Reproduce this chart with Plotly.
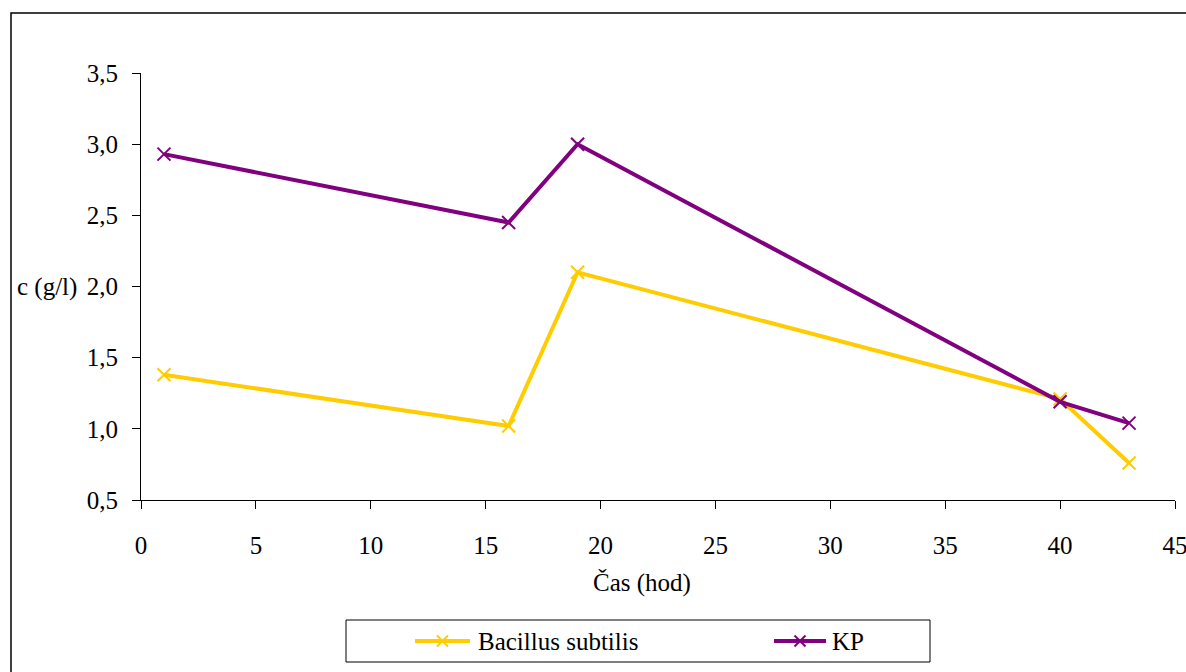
import plotly.graph_objects as go

# Sampling times (hours) and concentrations (g/l)
time_h = [1, 16, 19, 40, 43]
bacillus = [1.38, 1.02, 2.10, 1.21, 0.76]
kp = [2.93, 2.45, 3.00, 1.19, 1.04]
series_names = ["Bacillus subtilis", "KP"]

x_ticks = [0, 5, 10, 15, 20, 25, 30, 35, 40, 45]
y_ticks = [0.5, 1.0, 1.5, 2.0, 2.5, 3.0, 3.5]

SERIF = "Liberation Serif"
YELLOW = "#FFCC00"
PURPLE = "#800080"
colors = [YELLOW, PURPLE]


def font(size=25):
    return dict(family=SERIF, size=size, color="#000000")


fig = go.Figure()
for name, vals, col in zip(series_names, [bacillus, kp], colors):
    fig.add_trace(go.Scatter(
        x=time_h, y=vals, name=name, mode="lines+markers",
        line=dict(color=col, width=4),
        marker=dict(symbol="x-thin", size=13, color=col, line=dict(color=col, width=2)),
        showlegend=False,
    ))

W, H = 1186, 672
L, R, T, B = 141, 11, 73, 172
pw, ph = W - L - R, H - T - B


def px(xp):
    return (xp - L) / pw


def py(yp):
    return (H - B - yp) / ph


shapes = [
    # outer chart frame
    dict(type="rect", xref="paper", yref="paper",
         x0=px(11), x1=px(1192), y0=py(13), y1=py(680),
         line=dict(color="black", width=1.5), fillcolor="rgba(0,0,0,0)", layer="below"),
    # legend box
    dict(type="rect", xref="paper", yref="paper",
         x0=px(346), x1=px(930), y0=py(620), y1=py(662),
         line=dict(color="black", width=1), fillcolor="white", layer="below"),
]
annotations = [
    dict(text="c (g/l)", xref="paper", yref="y", x=px(79), y=2.0,
         xanchor="right", yanchor="middle", showarrow=False, font=font()),
    dict(text="Čas (hod)", xref="paper", yref="paper", x=px(642), y=py(583),
         xanchor="center", yanchor="middle", showarrow=False, font=font()),
]

# legend entries: line sample with an x glyph, then the series name
legend_y = 641
for name, col, (lx0, lx1, tx) in zip(series_names, colors, [(415, 470, 476), (774, 826, 830)]):
    shapes.append(dict(type="line", xref="paper", yref="paper",
                       x0=px(lx0), x1=px(lx1), y0=py(legend_y), y1=py(legend_y),
                       line=dict(color=col, width=4)))
    cx, s = (lx0 + lx1) / 2, 5.5
    shapes.append(dict(type="path", xref="paper", yref="paper",
                       path=(f"M{px(cx - s)},{py(legend_y - s)} L{px(cx + s)},{py(legend_y + s)} "
                             f"M{px(cx - s)},{py(legend_y + s)} L{px(cx + s)},{py(legend_y - s)}"),
                       line=dict(color=col, width=2)))
    annotations.append(dict(text=name, xref="paper", yref="paper", x=px(tx), y=py(legend_y),
                            xanchor="left", yanchor="middle", showarrow=False, font=font()))

fig.update_layout(
    width=W, height=H,
    margin=dict(l=L, r=R, t=T, b=B, pad=0, autoexpand=False),
    paper_bgcolor="white", plot_bgcolor="white",
    font=font(),
    separators=", ",
    showlegend=False,
    xaxis=dict(
        range=[0, 45], tickvals=x_ticks, showgrid=False, zeroline=False,
        showline=True, linecolor="black", linewidth=1,
        ticks="outside", ticklen=8, tickcolor="black", tickwidth=1,
        tickfont=font(),
        ticklabelstandoff=15, ticklabeloverflow="allow",
    ),
    yaxis=dict(
        range=[0.5, 3.5], tickvals=y_ticks, tickformat=".1f", showgrid=False, zeroline=False,
        showline=True, linecolor="black", linewidth=1,
        ticks="outside", ticklen=8, tickcolor="black", tickwidth=1,
        tickfont=font(),
        ticklabelstandoff=9,
    ),
    shapes=shapes,
    annotations=annotations,
)

# make sure every SVG text node uses the serif face
serif_js = """
document.querySelectorAll('.main-svg text').forEach(function (t) {
    t.style.setProperty('font-family', "'Liberation Serif', 'Times New Roman', serif", 'important');
});
"""

fig.write_html("out.html", post_script=serif_js)
